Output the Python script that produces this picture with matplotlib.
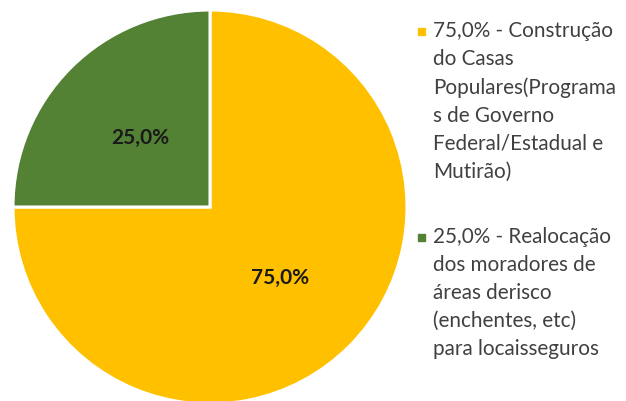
import numpy as np
import matplotlib
matplotlib.use('Agg')
import matplotlib.pyplot as plt
from matplotlib.patches import Rectangle

# --------------------------------------------------------------------------+
valores = [75.0, 25.0]
cores = ['#FFC000', '#548235']
rotulos = ['75,0%', '25,0%']
legenda = ['75,0% - Construção\ndo Casas\nPopulares(Programa\ns de Governo\nFederal/Estadual e\nMutirão)',
           '25,0% - Realocação\ndos moradores de\náreas derisco\n(enchentes, etc)\npara locaisseguros']
# --------------------------------------------------------------------------+

plt.rcParams['font.family'] = ['Lato', 'DejaVu Sans']

W, H = 626, 402
fig = plt.figure(figsize=(W/100, H/100), dpi=100)
cx, cy, r = 210, 208, 197
ax = fig.add_axes([(cx-r)/W, (H-cy-r)/H, 2*r/W, 2*r/H])

wedges, txt = ax.pie(valores, colors=cores, startangle=90, counterclock=False,
                     wedgeprops=dict(edgecolor='white', linewidth=2.2),
                     labels=rotulos, labeldistance=0.5)
for t in txt:
    t.set_fontsize(15)
    t.set_fontweight('bold')
    t.set_color('#1a1a1a')
    t.set_ha('center')
    t.set_va('center')
ax.set_xlim(-1, 1)
ax.set_ylim(-1, 1)
ax.axis('off')

# legenda manual
ytop = [32, 238]
for i in range(2):
    fig.patches.append(Rectangle((418/W, (H-ytop[i]-4)/H), 7/W, 7/H,
                                 transform=fig.transFigure, color=cores[i]))
    fig.text(433/W, (H-ytop[i]+11)/H, legenda[i], fontsize=14.9, color='#404040',
             ha='left', va='top', linespacing=1.5,
             transform=fig.transFigure)

fig.savefig('out.png', dpi=100)
